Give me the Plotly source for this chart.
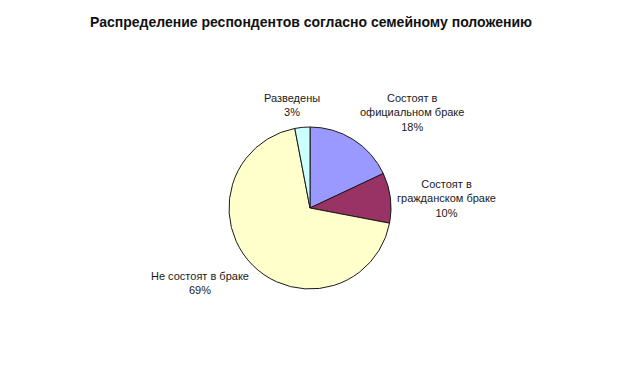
import plotly.graph_objects as go

title = "Распределение респондентов согласно семейному положению"
label_lines = [
    ["Состоят в", "официальном браке"],
    ["Состоят в", "гражданском браке"],
    ["Не состоят в браке"],
    ["Разведены"],
]
values = [18, 10, 69, 3]
colors = ["#9999FF", "#993366", "#FFFFCC", "#CCFFFF"]

labels = [" ".join(l) for l in label_lines]

W, H = 623, 375
OFF = 8  # page body margin offset

cx, cy, r = 310 - OFF, 208 - OFF, 81
fig = go.Figure(go.Pie(
    labels=labels,
    values=values,
    sort=False,
    direction="clockwise",
    rotation=0,
    marker=dict(colors=colors, line=dict(color="#1a1a1a", width=1)),
    textinfo="none",
    hoverinfo="label+percent",
    showlegend=False,
    domain=dict(x=[(cx - 150) / W, (cx + 150) / W], y=[1 - (cy + r) / H, 1 - (cy - r) / H]),
))

# label anchor positions (pixels) for each slice
label_pos = [(412, 112), (446, 198), (200, 283), (292, 105)]
total = sum(values)
annotations = []
for lines, v, (px, py) in zip(label_lines, values, label_pos):
    txt = "<br>".join(lines + [f"{round(100 * v / total)}%"])
    annotations.append(dict(
        x=(px - OFF) / W, y=1 - (py - OFF) / H, xref="paper", yref="paper",
        text=txt, showarrow=False, align="center",
        xanchor="center", yanchor="middle",
        font=dict(family="Liberation Sans, Arial", size=11, color="#1a1a1a"),
    ))

fig.update_layout(
    width=W, height=H,
    margin=dict(l=0, r=0, t=0, b=0),
    paper_bgcolor="white",
    plot_bgcolor="white",
    title=dict(text=f"<b>{title}</b>", x=(311 - OFF) / W, xanchor="center",
               y=1 - (22 - OFF) / H, yanchor="middle",
               font=dict(family="Liberation Sans, Arial", size=14, color="#111111")),
    annotations=annotations,
)

fig.write_html("out.html")
